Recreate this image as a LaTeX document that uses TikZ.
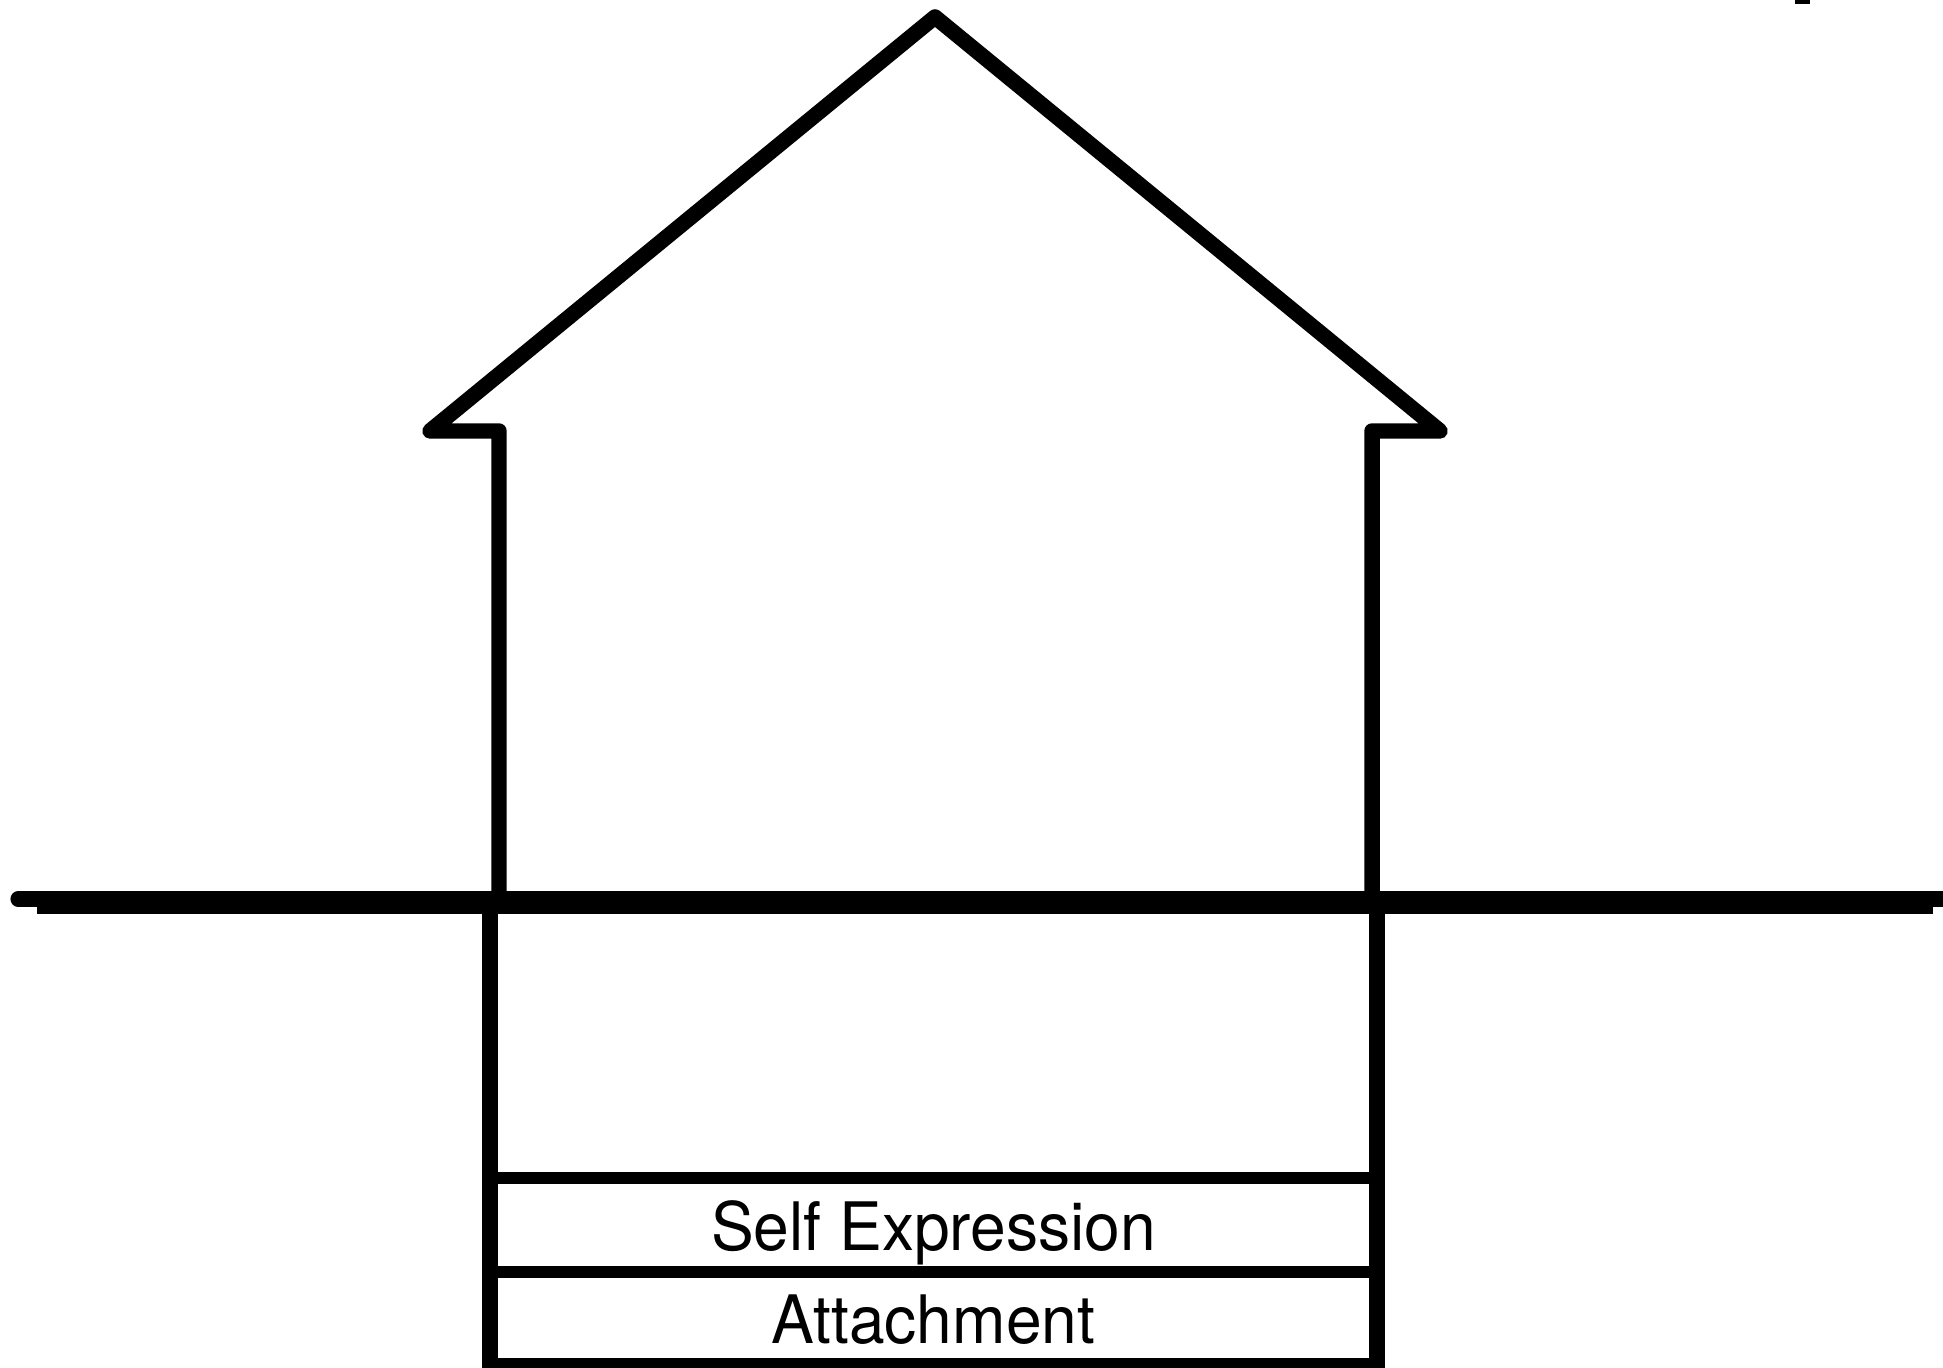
\documentclass[tikz,border=0pt]{standalone}
\usepackage{fontspec}
\setmainfont{TeX Gyre Heros}[FakeStretch=0.96]
\usetikzlibrary{calc}
\tikzset{
    house line/.style={
        line width=4.4pt,
        black,
        line join=round,
        line cap=round
    },
    floor line/.style={
        line width=3.2pt,
        black
    },
    ground line/.style={
        line width=4.3pt,
        black
    },
    layer label/.style={
        font=\fontsize{19}{21}\selectfont,
        inner sep=0pt
    }
}
\begin{document}
\begin{tikzpicture}[x=0.01cm,y=-0.01cm]
                \useasboundingbox (0,0) rectangle (1943,1367);
                \coordinate (RoofL) at (430, 431);
                \coordinate (Apex) at (935, 17);
                \coordinate (RoofR) at (1440, 431);
                \coordinate (WallTL) at (499, 431);
                \coordinate (WallTR) at (1372, 431);
                \coordinate (WallBL) at (499, 899);
                \coordinate (WallBR) at (1372, 899);
                \coordinate (BaseTL) at (490, 899);
                \coordinate (BaseTR) at (1377, 899);
                \coordinate (BaseBL) at (490, 1380);
                \coordinate (BaseBR) at (1377, 1380);
                \coordinate (GroundL) at (18, 899);
                \coordinate (GroundR) at (1960, 899);
                \coordinate (UnderL) at (37, 906);
                \coordinate (UnderR) at (1933, 906);
                % house above ground
                \draw [house line] (WallBL) -- (WallTL) -- (RoofL) -- (Apex) -- (RoofR) -- (WallTR) -- (WallBR);
                % ground
                \draw [ground line, line cap=round] (GroundL) -- (GroundR);
                \draw [ground line] (UnderL) -- (UnderR);
                % basement
                \draw [house line, line cap=butt] (BaseTL) -- (BaseBL);
                \draw [house line, line cap=butt] (BaseTR) -- (BaseBR);
                \foreach \y/\name in {1178/Floor1, 1272/Floor2, 1364/Floor3} {
                    \draw [floor line] (490, \y) coordinate (\name L) -- (1377, \y) coordinate (\name R);
                }
                \node [layer label] (SelfExpression) at ($(Floor1L)!0.5!(Floor2R) + (0, 8)$) {Self Expression};
                \node [layer label] (Attachment) at ($(Floor2L)!0.5!(Floor3R) + (0, 2)$) {Attachment};
                % cut-off mark at the top edge
                \fill (1795, -5) rectangle (1810, 4);
            \end{tikzpicture}
\end{document}
